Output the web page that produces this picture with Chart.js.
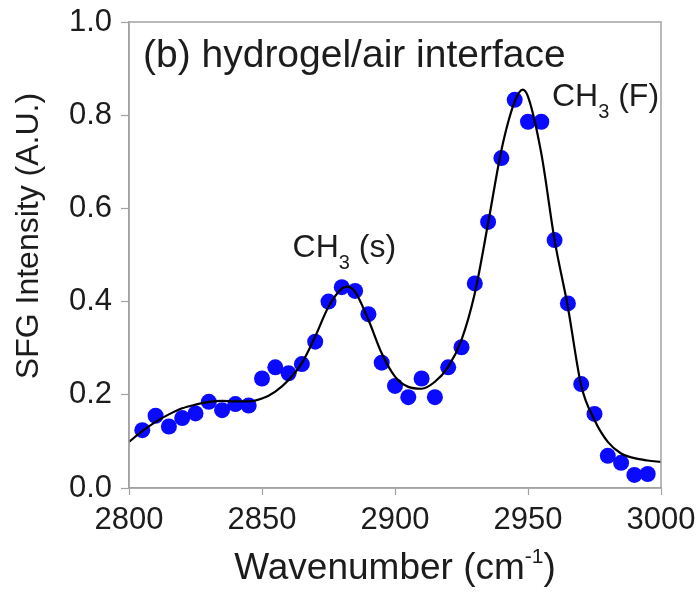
<!DOCTYPE html>
<html>
<head>
<meta charset="utf-8">
<script src="https://cdn.jsdelivr.net/npm/chart.js@4/dist/chart.umd.min.js"></script>
<style>
  body { margin: 0; background: #fff; }
</style>
</head>
<body>
<canvas id="sfgChart" width="700" height="598"></canvas>
<script>
// SFG spectrum of the hydrogel/air interface: measured points plus fitted curve.

const pointWavenumber = [2805, 2810, 2815, 2820, 2825, 2830, 2835, 2840, 2845, 2850,
  2855, 2860, 2865, 2870, 2875, 2880, 2885, 2890, 2895, 2900,
  2905, 2910, 2915, 2920, 2925, 2930, 2935, 2940, 2945, 2950,
  2955, 2960, 2965, 2970, 2975, 2980, 2985, 2990, 2995];
const pointIntensity = [0.124, 0.155, 0.132, 0.150, 0.160, 0.185, 0.167, 0.180, 0.177, 0.235,
  0.259, 0.246, 0.266, 0.314, 0.400, 0.431, 0.423, 0.373, 0.269, 0.219,
  0.195, 0.235, 0.195, 0.259, 0.302, 0.439, 0.571, 0.708, 0.833, 0.786,
  0.786, 0.532, 0.396, 0.223, 0.159, 0.069, 0.054, 0.028, 0.030];

const fitWavenumber = [2800, 2805, 2810, 2815, 2820, 2825, 2830, 2835, 2840, 2845,
  2850, 2855, 2860, 2865, 2870, 2875, 2880, 2882, 2885, 2890,
  2895, 2900, 2905, 2910, 2915, 2920, 2925, 2930, 2935, 2940,
  2945, 2948, 2950, 2955, 2960, 2965, 2970, 2975, 2980, 2985,
  2990, 2995, 3000];
const fitIntensity = [0.099, 0.122, 0.142, 0.158, 0.171, 0.179, 0.185, 0.187, 0.186, 0.186,
  0.192, 0.207, 0.232, 0.268, 0.325, 0.389, 0.428, 0.432, 0.421, 0.361,
  0.289, 0.239, 0.217, 0.213, 0.228, 0.260, 0.318, 0.418, 0.568, 0.725,
  0.829, 0.855, 0.840, 0.718, 0.532, 0.388, 0.220, 0.146, 0.099, 0.074,
  0.064, 0.059, 0.056];

const xTicks = [2800, 2850, 2900, 2950, 3000];
const yTicks = [0.0, 0.2, 0.4, 0.6, 0.8, 1.0];

const peakLabels = [
  { x: 2861.5, y: 0.496, text: "CH", sub: "3", tail: " (s)" },
  { x: 2959, y: 0.82, text: "CH", sub: "3", tail: " (F)" },
];

const FONT = '"Liberation Sans", Arial, Helvetica, sans-serif';
const INK = "#1c1c1c";
const FRAME = "#a2a2a2";

const toPairs = (xs, ys) => xs.map((x, i) => ({ x, y: ys[i] }));

// draws "CH3 (x)" with a subscript, left edge at x, baseline at y
const drawSubText = (ctx, x, y, lbl, size) => {
  ctx.font = `${size}px ${FONT}`;
  ctx.fillText(lbl.text, x, y);
  let cx = x + ctx.measureText(lbl.text).width;
  ctx.font = `${Math.round(size * 0.62)}px ${FONT}`;
  ctx.fillText(lbl.sub, cx, y + size * 0.38);
  cx += ctx.measureText(lbl.sub).width;
  ctx.font = `${size}px ${FONT}`;
  ctx.fillText(lbl.tail, cx, y);
};

const decorations = {
  id: "decorations",
  afterDraw(chart) {
    const { ctx, chartArea: area, scales } = chart;
    ctx.save();

    // frame around the plot
    ctx.strokeStyle = FRAME;
    ctx.lineWidth = 1.5;
    ctx.strokeRect(area.left, area.top, area.right - area.left, area.bottom - area.top);

    ctx.fillStyle = INK;
    ctx.textAlign = "left";
    ctx.textBaseline = "alphabetic";

    // panel title
    ctx.font = `39px ${FONT}`;
    ctx.fillText("(b) hydrogel/air interface", area.left + 14, area.top + 45);

    // peak assignments
    peakLabels.forEach((lbl) => {
      drawSubText(ctx, scales.x.getPixelForValue(lbl.x), scales.y.getPixelForValue(lbl.y), lbl, 32);
    });

    // x axis title with superscript
    const xt = "Wavenumber (cm";
    const sup = "-1";
    ctx.font = `37px ${FONT}`;
    const w1 = ctx.measureText(xt).width;
    const w3 = ctx.measureText(")").width;
    ctx.font = `21px ${FONT}`;
    const w2 = ctx.measureText(sup).width;
    const total = w1 + w2 + w3;
    let sx = (area.left + area.right) / 2 - total / 2;
    const baseY = 579;
    ctx.font = `37px ${FONT}`;
    ctx.fillText(xt, sx, baseY);
    sx += w1;
    ctx.font = `21px ${FONT}`;
    ctx.fillText(sup, sx, baseY - 16);
    sx += w2;
    ctx.font = `37px ${FONT}`;
    ctx.fillText(")", sx, baseY);

    // y axis title
    ctx.translate(29, 236);
    ctx.rotate(-Math.PI / 2);
    ctx.textAlign = "center";
    ctx.textBaseline = "middle";
    ctx.font = `32px ${FONT}`;
    ctx.fillText("SFG Intensity (A.U.)", 0, 0);

    ctx.restore();
  },
};

new Chart(document.getElementById("sfgChart"), {
  type: "scatter",
  data: {
    datasets: [
      {
        label: "Fit",
        data: toPairs(fitWavenumber, fitIntensity),
        showLine: true,
        borderColor: "#000",
        borderWidth: 2.2,
        pointRadius: 0,
        cubicInterpolationMode: "monotone",
        order: 0,
      },
      {
        label: "Measured",
        data: toPairs(pointWavenumber, pointIntensity),
        showLine: false,
        pointRadius: 8,
        pointBorderWidth: 0,
        backgroundColor: "#0a0aff",
        borderColor: "#0a0aff",
        order: 1,
      },
    ],
  },
  options: {
    responsive: false,
    animation: false,
    layout: { padding: { left: 0, top: 22, right: 39, bottom: 0 } },
    plugins: { legend: { display: false }, tooltip: { enabled: false } },
    scales: {
      x: {
        type: "linear",
        min: 2800,
        max: 3000,
        // fixed height, and no extra room for the overhanging end labels
        afterFit: (s) => {
          s.height = 110;
          s.paddingLeft = 0;
          s.paddingRight = 0;
        },
        afterBuildTicks: (s) => { s.ticks = xTicks.map((v) => ({ value: v })); },
        border: { color: FRAME, width: 1.5 },
        grid: { drawOnChartArea: false, color: FRAME, tickLength: 7, tickWidth: 1.2 },
        ticks: {
          color: INK,
          padding: 7,
          maxRotation: 0,
          font: { family: FONT, size: 31 },
          callback: (v) => String(v),
        },
      },
      y: {
        type: "linear",
        min: 0,
        max: 1,
        afterFit: (s) => {
          s.width = 129;
          s.paddingTop = 0;
          s.paddingBottom = 0;
        },
        afterBuildTicks: (s) => { s.ticks = yTicks.map((v) => ({ value: v })); },
        border: { color: FRAME, width: 1.5 },
        grid: { drawOnChartArea: false, color: FRAME, tickLength: 8, tickWidth: 1.2 },
        ticks: {
          color: INK,
          padding: 9,
          font: { family: FONT, size: 31 },
          callback: (v) => v.toFixed(1),
        },
      },
    },
  },
  plugins: [decorations],
});
</script>
</body>
</html>
